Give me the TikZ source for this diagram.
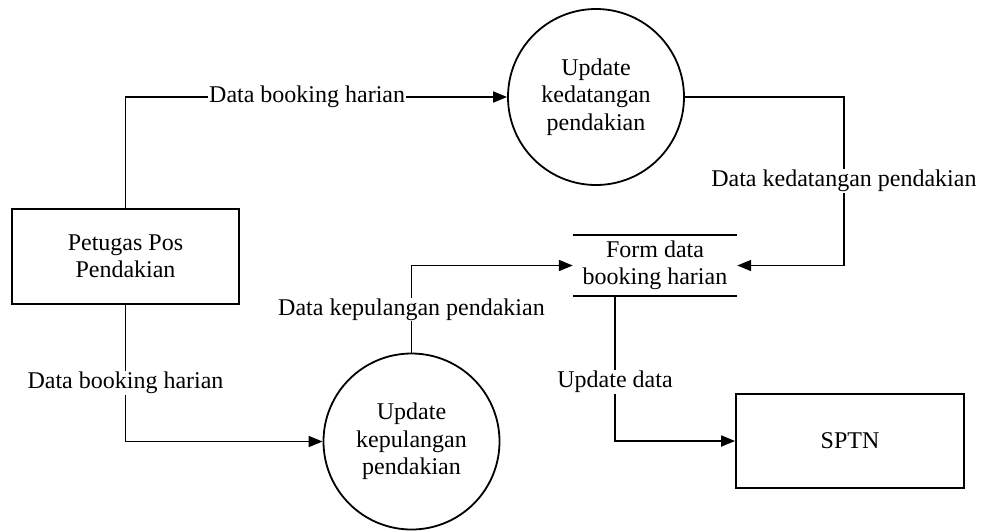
\documentclass[tikz,border=0pt]{standalone}
\usepackage{fontspec}
\setmainfont{Liberation Serif}
\usepackage{tikz}
\usetikzlibrary{arrows.meta}
\usetikzlibrary{positioning}
\tikzset{entity/.style ={draw, rectangle, line width=1.8pt, align=center}}
\tikzset{process/.style ={draw, circle, line width=1.8pt, minimum size=176pt, align=center, inner sep=0pt}}
\tikzset{store/.style ={rectangle, minimum width=164pt, minimum height=61pt, align=center}}
\tikzset{flow/.style ={line width=1.8pt, -{Triangle[length=14pt, width=11pt]}}}
\tikzset{lbl/.style ={fill=white, inner sep=1pt}}

\begin{document}
\begin{tikzpicture}[x=1pt, y=-1pt, font=\fontsize{24}{27.5}\selectfont]
\useasboundingbox (0,0) rectangle (982,531);
\node [entity, minimum width=227pt, minimum height=95pt] (petugas) at (125.5,256.5) {Petugas Pos\\Pendakian};
\node [process] (kedatangan) at (596,97) {Update\\kedatangan\\pendakian};
\node [process] (kepulangan) at (411.5,441.5) {Update\\kepulangan\\pendakian};
\node [store] (form) at (655,265.5) {Form data\\booking harian};
\node [entity, minimum width=228pt, minimum height=94pt] (sptn) at (850,441) {SPTN};
\draw [line width=1.8pt] (form.north west) -- (form.north east);
\draw [line width=1.8pt] (form.south west) -- (form.south east);

\draw [flow] (petugas.north) |- node [lbl, pos=0.738] {Data booking harian} (kedatangan.west);
\draw [flow] (kedatangan.east) -- ++(159,0) |- node [lbl, pos=0.25] {Data kedatangan pendakian} (form.east);
\draw [flow] (petugas.south) |- node [lbl, pos=0.285] {Data booking harian} (kepulangan.west);
\draw [flow] (kepulangan.north) |- node [lbl, pos=0.247] {Data kepulangan pendakian} (form.west);
\draw [flow] ([xshift=-40pt]form.south) |- node [lbl, pos=0.297] {Update data} (sptn.west);
\end{tikzpicture}
\end{document}
